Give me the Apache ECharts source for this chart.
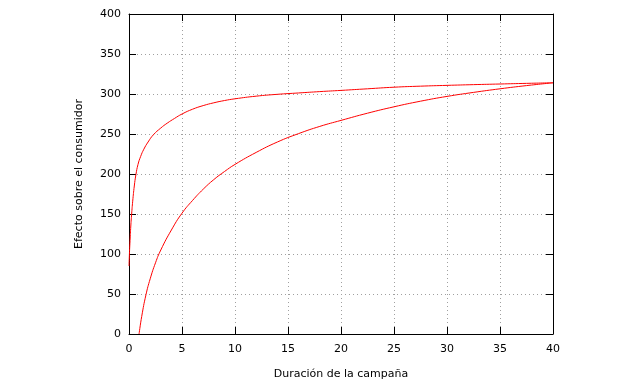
<!DOCTYPE html>
<html>
<head>
<meta charset="utf-8">
<script src="https://cdn.jsdelivr.net/npm/echarts@6/dist/echarts.min.js"></script>
<style>html,body{margin:0;padding:0;background:#fff;}#c{width:640px;height:384px;}</style>
</head>
<body>
<div id="c"></div>
<script>
const xTicks = [0, 5, 10, 15, 20, 25, 30, 35, 40];
const yTicks = [0, 50, 100, 150, 200, 250, 300, 350, 400];
const upperX = [0, 0.05, 0.1, 0.17, 0.25, 0.35, 0.5, 0.65, 0.85, 1.1, 1.4, 1.8, 2.3, 3, 3.6, 4.3, 5, 6, 7, 8, 9, 10, 12, 14, 16, 18, 20, 22.5, 25, 27.5, 30, 32.5, 35, 37.5, 40];
const upperY = [85, 103, 117, 135, 150, 166, 185, 199, 212, 222, 231, 240, 249, 257.5, 263.5, 269.5, 275, 281, 285.5, 289, 291.8, 294, 297.3, 299.6, 301.3, 303, 304.5, 306.5, 308.5, 309.8, 310.8, 311.7, 312.5, 313.3, 314];
const lowerX = [0.95, 1.2, 1.6, 2, 2.5, 3, 4, 5, 6, 7, 8, 9, 10, 12, 14, 16, 18, 20, 22.5, 25, 27.5, 30, 32.5, 35, 37.5, 40];
const lowerY = [0, 22, 49, 69, 89, 105, 130, 151, 167, 181, 193, 203, 212, 227, 240, 250.5, 259.5, 267, 276, 284, 291, 297, 302, 306.5, 310.5, 314];
const xName = 'Duración de la campaña';
const yName = 'Efecto sobre el consumidor';

const font = '"DejaVu Sans", Verdana, sans-serif';
const chart = echarts.init(document.getElementById('c'), null, {renderer: 'canvas'});
const gridLine = {show: true, lineStyle: {color: '#a0a0a0', width: 1, type: [1, 3]}};
const tick = {show: true, inside: true, length: 7, lineStyle: {color: '#000', width: 1}};
const axLine = {show: true, onZero: false, lineStyle: {color: '#000', width: 1}};
chart.setOption({
  animation: false,
  grid: {left: 129, right: 87, top: 14, bottom: 50, containLabel: false, outerBoundsMode: 'none'},
  xAxis: [{
    type: 'value', min: xTicks[0], max: xTicks[xTicks.length - 1], interval: 5,
    name: xName, nameLocation: 'middle', nameGap: 35,
    nameTextStyle: {fontFamily: font, fontSize: 11, color: '#000'},
    axisLine: axLine, axisTick: tick, splitLine: gridLine,
    axisLabel: {fontFamily: font, fontSize: 11, color: '#000', margin: 10}
  }, {
    type: 'value', position: 'top', min: 0, max: 40, interval: 5,
    axisLine: axLine, axisTick: tick, splitLine: {show: false}, axisLabel: {show: false}
  }],
  yAxis: [{
    type: 'value', min: yTicks[0], max: yTicks[yTicks.length - 1], interval: 50,
    name: yName, nameLocation: 'middle', nameGap: 44,
    nameTextStyle: {fontFamily: font, fontSize: 11, color: '#000'},
    axisLine: axLine, axisTick: tick, splitLine: gridLine,
    axisLabel: {fontFamily: font, fontSize: 11, color: '#000', margin: 8}
  }, {
    type: 'value', position: 'right', min: 0, max: 400, interval: 50,
    axisLine: axLine, axisTick: tick, splitLine: {show: false}, axisLabel: {show: false}
  }],
  series: [{
    type: 'line', data: upperX.map((x, i) => [x, upperY[i]]),
    smooth: 0.5, showSymbol: false, symbol: 'none',
    lineStyle: {color: '#ff0000', width: 1}, clip: true
  }, {
    type: 'line', data: lowerX.map((x, i) => [x, lowerY[i]]),
    smooth: 0.5, showSymbol: false, symbol: 'none',
    lineStyle: {color: '#ff0000', width: 1}, clip: true
  }]
});
</script>
</body>
</html>
